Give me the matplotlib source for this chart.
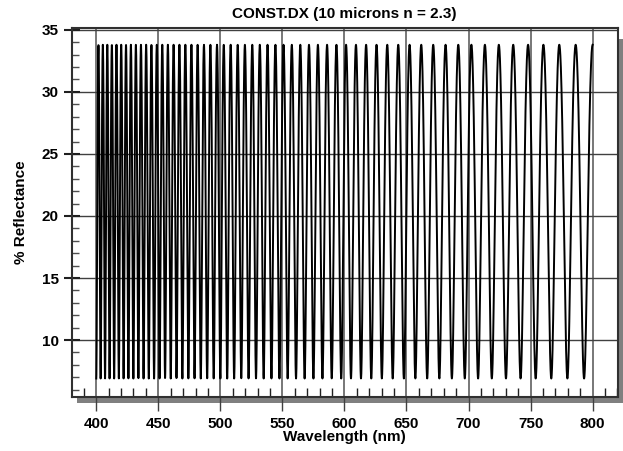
import numpy as np
import matplotlib
matplotlib.use("Agg")
import matplotlib.pyplot as plt
from matplotlib.patches import Rectangle
from matplotlib.ticker import MultipleLocator

# ── Data ────────────────────────────────────────────────────────────────────
# film parameters from the title, fringe extremes
thickness_nm = 10000.0
index_n = 2.3
wl_start, wl_stop, wl_step = 400.0, 800.0, 0.1
r_peak = 33.8     # % reflectance at fringe maxima
r_valley = 6.9    # % reflectance at fringe minima

x_ticks = [400, 450, 500, 550, 600, 650, 700, 750, 800]
y_ticks = [10, 15, 20, 25, 30, 35]

# Airy thin-film reflectance with interface amplitudes matched to the extremes
wl = np.arange(wl_start, wl_stop + wl_step / 2, wl_step)
s = np.arctanh(np.sqrt(r_peak / 100))
d = np.arctanh(np.sqrt(r_valley / 100))
a, b = np.tanh((s + d) / 2), np.tanh((s - d) / 2)
delta = 4 * np.pi * index_n * thickness_nm / wl
refl = 100 * (a**2 + b**2 - 2 * a * b * np.cos(delta)) / (1 + a**2 * b**2 - 2 * a * b * np.cos(delta))

# ── Figure ──────────────────────────────────────────────────────────────────
plt.rcParams["font.family"] = ["Liberation Sans", "DejaVu Sans"]
plt.rcParams["font.weight"] = "bold"

W, H = 623, 451
fig = plt.figure(figsize=(W / 100, H / 100), dpi=100)

L, R, T, B = 71.7, 617.7, 28.0, 396.5
ax = fig.add_axes([L / W, 1 - B / H, (R - L) / W, (B - T) / H])

# drop shadow behind the plot frame
fig.patches.append(Rectangle(((L + 5.5) / W, 1 - (B + 6) / H), (R - L) / W, (B - T) / H - 0.01,
                             transform=fig.transFigure, facecolor="#808080",
                             edgecolor="none", zorder=0))
ax.set_zorder(1)
ax.set_facecolor("white")

ax.plot(wl, refl, color="black", lw=1.4, zorder=3)

ax.set_xlim(380.2, 820.2)
ax.set_ylim(5.45, 35.15)
ax.set_xticks(x_ticks)
ax.set_yticks(y_ticks)
ax.xaxis.set_minor_locator(MultipleLocator(10))
ax.yaxis.set_minor_locator(MultipleLocator(1))

ax.grid(True, which="major", axis="x", color="#606060", lw=1.2)
ax.grid(True, which="major", axis="y", color="#404040", lw=1.0)
ax.set_axisbelow(True)

ax.tick_params(axis="x", which="major", direction="out", length=10, width=1.0,
               color="#404040", labelsize=11, pad=5)
ax.tick_params(axis="y", which="major", direction="inout", length=11, width=1.5,
               color="#202020", labelsize=11, pad=4)
ax.tick_params(axis="x", which="minor", direction="in", length=6.5, width=1.0, color="#202020")
ax.tick_params(axis="y", which="minor", direction="in", length=5, width=1.0, color="#505050")
ax.yaxis.set_ticks_position("left")
ax.xaxis.set_ticks_position("bottom")
for lab in ax.get_xticklabels() + ax.get_yticklabels():
    lab.set_fontweight("bold")

for sp in ax.spines.values():
    sp.set_linewidth(1.5)
    sp.set_color("#303030")

ax.set_title("CONST.DX (10 microns n = 2.3)", fontsize=11, fontweight="bold", pad=7)
ax.set_xlabel("Wavelength (nm)", fontsize=11, fontweight="bold", labelpad=-1)
ax.set_ylabel("% Reflectance", fontsize=11, fontweight="bold", labelpad=10)

fig.savefig("out.png", dpi=100, facecolor="white")
